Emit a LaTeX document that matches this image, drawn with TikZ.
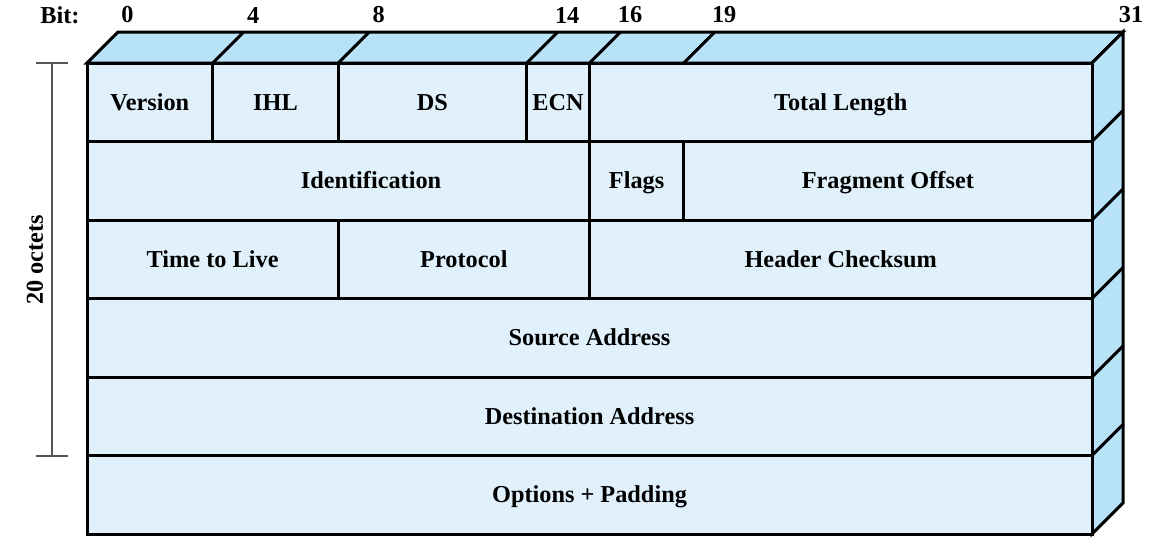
\documentclass[tikz,border=0pt]{standalone}
\usepackage{fontspec}
\setmainfont{Liberation Serif}
\usetikzlibrary{fit}
\definecolor{frontc}{RGB}{225,241,252}
\definecolor{facec}{RGB}{183,226,248}
\definecolor{brackc}{RGB}{85,85,85}
\begin{document}
\begin{tikzpicture}[x=0.5pt,y=-0.5pt,
  field/.style={draw=black,line width=1.5pt,fill=frontc,inner sep=0pt},
  txt/.style={font=\fontsize{12.15}{14}\selectfont\bfseries,inner sep=0pt,anchor=base,yshift=-4pt},
  face/.style={draw=black,line width=1.5pt,fill=facec,line join=miter},
  edge/.style={draw=black,line width=1.5pt},
  bitlab/.style={font=\fontsize{12.15}{14}\selectfont\bfseries,inner sep=0pt},
  brack/.style={draw=brackc,line width=1pt}]
\useasboundingbox (0,0) rectangle (1170,547);
\pgfmathsetmacro{\b}{1005/32}
% faces
\path[face] (87,63) -- (118,32) -- (1123,32) -- (1092,63) -- cycle;
\path[face] (1092,63) -- (1123,32) -- (1123,503) -- (1092,534) -- cycle;
% row 1
\node[field,fit={(87,63)({87+4*\b},141.5)}] (ver) {};
\node[field,fit={({87+4*\b},63)({87+8*\b},141.5)}] (ihl) {};
\node[field,fit={({87+8*\b},63)({87+14*\b},141.5)}] (ds) {};
\node[field,fit={({87+14*\b},63)({87+16*\b},141.5)}] (ecn) {};
\node[field,fit={({87+16*\b},63)(1092,141.5)}] (tl) {};
% row 2
\node[field,fit={(87,141.5)({87+16*\b},220)}] (id) {};
\node[field,fit={({87+16*\b},141.5)({87+19*\b},220)}] (fl) {};
\node[field,fit={({87+19*\b},141.5)(1092,220)}] (fo) {};
% row 3
\node[field,fit={(87,220)({87+8*\b},298.5)}] (ttl) {};
\node[field,fit={({87+8*\b},220)({87+16*\b},298.5)}] (pr) {};
\node[field,fit={({87+16*\b},220)(1092,298.5)}] (hc) {};
% rows 4-6
\node[field,fit={(87,298.5)(1092,377)}] (sa) {};
\node[field,fit={(87,377)(1092,455.5)}] (da) {};
\node[field,fit={(87,455.5)(1092,534)}] (op) {};
% texts
\node[txt] (tver) at (ver.center) {Version};
\node[txt] (tihl) at (ihl.center) {IHL};
\node[txt] (tds) at (ds.center) {DS};
\node[txt] (tecn) at (ecn.center) {ECN};
\node[txt] (ttl2) at (tl.center) {Total Length};
\node[txt] (tid) at (371,180.75) {Identification};
\node[txt] (tfl) at (fl.center) {Flags};
\node[txt] (tfo) at (fo.center) {Fragment Offset};
\node[txt] (tttl) at (ttl.center) {Time to Live};
\node[txt] (tpr) at (pr.center) {Protocol};
\node[txt] (thc) at (hc.center) {Header Checksum};
\node[txt] (tsa) at (sa.center) {Source Address};
\node[txt] (tda) at (da.center) {Destination Address};
\node[txt] (top) at (op.center) {Options + Padding};
% top face dividers
\foreach \k in {4,8,14,16,19} {
  \draw[edge] ({87+\k*\b},63) -- ({118+\k*\b},32);
}
% side face dividers
\foreach \r in {141.5,220,298.5,377,455.5} {
  \draw[edge] (1092,\r) -- (1123,{\r-31});
}
% bit labels
\node[bitlab] (bitw) at (60,15) {Bit:};
\foreach \k in {0,4,8,14,16,19} {
  \node[bitlab] (b\k) at ({127.5+\k*\b},15) {\k};
}
\node[bitlab] (b31) at (1131,15) {31};
% bracket
\coordinate (bt) at (52,63);
\coordinate (bb) at (52,456);
\coordinate (btl) at (36,63);
\coordinate (btr) at (68,63);
\coordinate (bbl) at (36,456);
\coordinate (bbr) at (68,456);
\draw[brack] (bt) -- (bb);
\draw[brack] (btl) -- (btr);
\draw[brack] (bbl) -- (bbr);
\node[bitlab,rotate=90] (oct) at (35,260) {20 octets};
\end{tikzpicture}
\end{document}
